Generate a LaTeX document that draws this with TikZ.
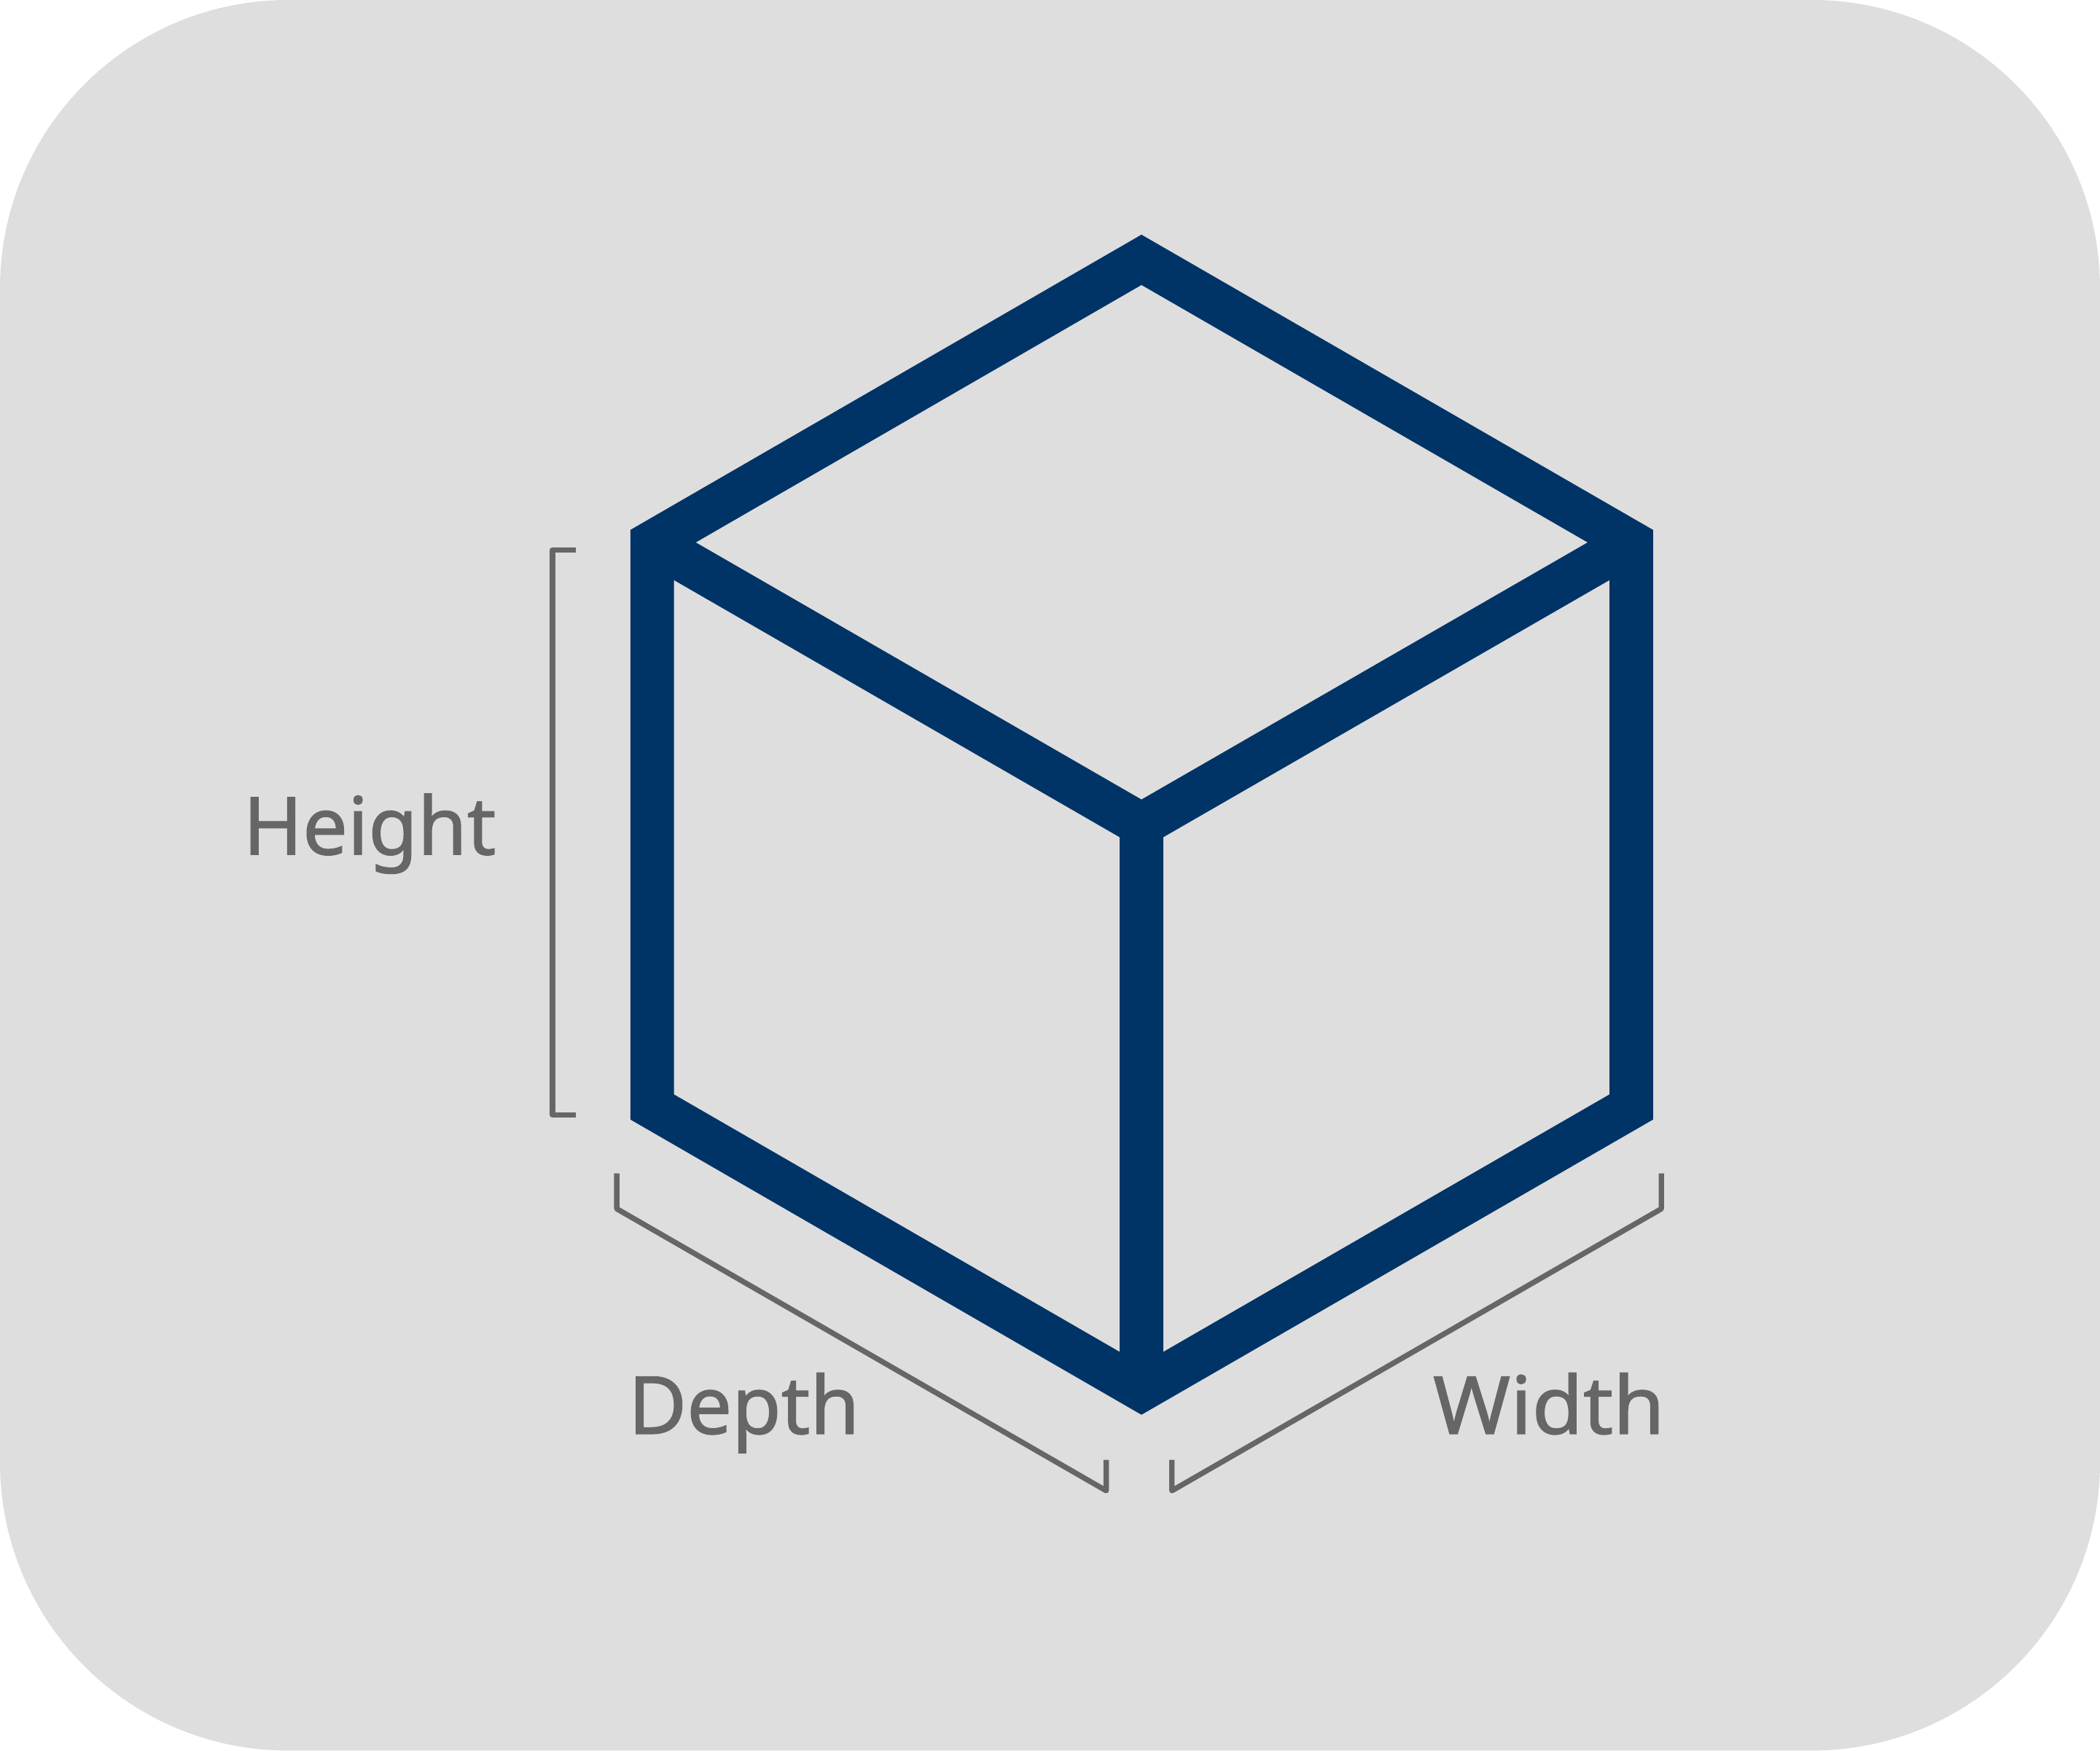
\documentclass[tikz,border=0pt]{standalone}
\usepackage{fontspec}
\setmainfont[FakeBold=1.2]{Noto Sans}
\usepackage{tikz}
\definecolor{panelgrey}{HTML}{DEDEDE}
\definecolor{cubeblue}{HTML}{003366}
\definecolor{markgrey}{HTML}{666666}

\begin{document}
\begin{tikzpicture}[x=0.01cm,y=-0.01cm]
	\tikzstyle{panel}=[fill=panelgrey, draw=none]
	\tikzstyle{cube}=[draw=cubeblue, line width=0.325cm, miter limit=10, join=miter]
	\tikzstyle{bracket}=[draw=markgrey, line width=0.04cm, line join=round]
	\tikzstyle{lbl}=[text=markgrey, font=\fontsize{17pt}{20pt}\selectfont, inner sep=0pt, anchor=base]

	\useasboundingbox (0,0) rectangle (1568,1307);
	\fill[panel, rounded corners=2.15cm] (0,0) rectangle (1568,1307);

	% the cube
	\coordinate (top) at (852.3,194);
	\coordinate (tr) at (1218,405);
	\coordinate (br) at (1218,826.5);
	\coordinate (bot) at (852.3,1037.5);
	\coordinate (bl) at (487,826.5);
	\coordinate (tl) at (487,405);
	\coordinate (mid) at (852.3,615.7);
	\draw[cube] (top) -- (tr) -- (br) -- (bot) -- (bl) -- (tl) -- cycle;
	\draw[cube] (tl) -- (mid) -- (tr);
	\draw[cube] (mid) -- (bot);

	% brackets
	\coordinate (h1) at (430,410.5);
	\coordinate (h2) at (412.5,410.5);
	\coordinate (h3) at (412.5,832.5);
	\coordinate (h4) at (430,832.5);
	\draw[bracket] (h1) -- (h2) -- (h3) -- (h4);
	\coordinate (d1) at (460.5,876);
	\coordinate (d2) at (460.5,902.5);
	\coordinate (d3) at (826,1113);
	\coordinate (d4) at (826,1090);
	\draw[bracket] (d1) -- (d2) -- (d3) -- (d4);
	\coordinate (w1) at (1240.5,876);
	\coordinate (w2) at (1240.5,902.5);
	\coordinate (w3) at (875,1113);
	\coordinate (w4) at (875,1090);
	\draw[bracket] (w1) -- (w2) -- (w3) -- (w4);

	% labels
	\node[lbl] (height) at (276,638) {Height};
	\node[lbl] (depth) at (555.5,1070.5) {Depth};
	\node[lbl, xscale=1.04] (width) at (1156.5,1070.5) {Width};
\end{tikzpicture}
\end{document}
